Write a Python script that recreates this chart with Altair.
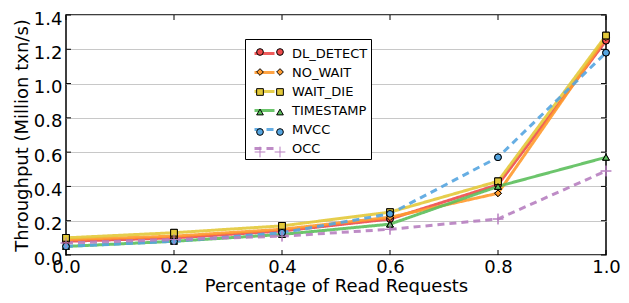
import altair as alt
import pandas as pd

read_pct = [0.0, 0.2, 0.4, 0.6, 0.8, 1.0]
y_ticks = [0.0, 0.2, 0.4, 0.6, 0.8, 1.0, 1.2, 1.4]
series_names = ["DL_DETECT", "NO_WAIT", "WAIT_DIE", "TIMESTAMP", "MVCC", "OCC"]
dl_detect = [0.08, 0.10, 0.14, 0.21, 0.41, 1.25]
no_wait = [0.09, 0.11, 0.15, 0.22, 0.36, 1.27]
wait_die = [0.10, 0.13, 0.17, 0.25, 0.43, 1.28]
timestamp = [0.05, 0.08, 0.12, 0.18, 0.40, 0.57]
mvcc = [0.05, 0.08, 0.13, 0.24, 0.57, 1.18]
occ = [0.07, 0.09, 0.11, 0.15, 0.21, 0.49]

colors = ["#ee4b4b", "#ff9a2e", "#e3c93a", "#5cbf5c", "#55a5e0", "#b77fc0"]
shapes = ["circle", "diamond", "square", "triangle-up", "circle",
          "M-1.6,0H1.6M0,-1.6V1.6"]
dashes = [[1, 0], [1, 0], [1, 0], [1, 0], [7, 5], [7, 5]]
edges = ["black", "black", "black", "black", "black", "#b77fc0"]

vals = [dl_detect, no_wait, wait_die, timestamp, mvcc, occ]
rows = []
for name, ys in zip(series_names, vals):
    for x, y in zip(read_pct, ys):
        rows.append({"x": x, "y": y, "series": name})
df = pd.DataFrame(rows)

W, H = 540, 240
LX, LY = 179, 24
ticks_x = pd.DataFrame({"x": read_pct})
ticks_y = pd.DataFrame({"y": y_ticks})

xscale = alt.Scale(domain=[0, 1], nice=False, zero=False, padding=0)
yscale = alt.Scale(domain=[0, 1.4], nice=False, padding=0)

line_legend = alt.Legend(
    title=None, orient="none", legendX=LX, legendY=LY,
    labelFont="DejaVu Sans", labelFontSize=13, labelColor="black",
    strokeColor="black", fillColor="white", padding=3,
    symbolSize=400, symbolStrokeWidth=3, symbolOffset=5, labelOffset=16,
    rowPadding=0, symbolType="stroke",
)


def marker_legend(offset):
    return alt.Legend(
        title=None, orient="none", legendX=LX, legendY=LY,
        labelFont="DejaVu Sans", labelFontSize=20, labelExpr="''",
        padding=3, symbolSize=45, symbolStrokeWidth=1, symbolOffset=offset,
        rowPadding=0,
    )


xaxis = alt.Axis(title="Percentage of Read Requests", values=read_pct, format=".1f",
                 grid=False, tickSize=0, labelPadding=3, domain=False,
                 labelFlush=False, labelOverlap=False)
yaxis = alt.Axis(title="Throughput (Million txn/s)", values=y_ticks, format=".1f",
                 grid=True, tickSize=0, labelPadding=4, domain=False,
                 labelFlush=False, labelOverlap=False, labelOffset=4)


def X():
    return alt.X("x:Q", scale=xscale, axis=xaxis)


def Y():
    return alt.Y("y:Q", scale=yscale, axis=yaxis)


base = alt.Chart(df)
lines = base.mark_line(strokeWidth=3, opacity=0.9).encode(
    x=X(), y=Y(),
    color=alt.Color("series:N", scale=alt.Scale(domain=series_names, range=colors),
                    legend=line_legend, sort=series_names),
    strokeDash=alt.StrokeDash("series:N", scale=alt.Scale(domain=series_names, range=dashes),
                              legend=line_legend, sort=series_names),
)


def point_layer(offset):
    lg = marker_legend(offset)
    return base.mark_point(filled=True, size=45, strokeWidth=1, opacity=1).encode(
        x=X(), y=Y(),
        fill=alt.Fill("series:N", scale=alt.Scale(domain=series_names, range=colors),
                      legend=lg, sort=series_names),
        shape=alt.Shape("series:N", scale=alt.Scale(domain=series_names, range=shapes),
                        legend=lg, sort=series_names),
        stroke=alt.Stroke("series:N", scale=alt.Scale(domain=series_names, range=edges),
                          legend=lg, sort=series_names),
    )


points_a = point_layer(2)
points_b = point_layer(22)

bx = alt.Chart(ticks_x).mark_rule(color="black", strokeWidth=1).encode(
    x=X(), y=alt.value(H), y2=alt.value(H - 5))
tx = alt.Chart(ticks_x).mark_rule(color="black", strokeWidth=1).encode(
    x=X(), y=alt.value(0), y2=alt.value(5))
ly = alt.Chart(ticks_y).mark_rule(color="black", strokeWidth=1).encode(
    y=Y(), x=alt.value(0), x2=alt.value(5))
ry = alt.Chart(ticks_y).mark_rule(color="black", strokeWidth=1).encode(
    y=Y(), x=alt.value(W), x2=alt.value(W - 5))

chart = alt.layer(lines, points_a, points_b, bx, tx, ly, ry).resolve_scale(
    fill="independent", shape="independent", stroke="independent"
).properties(
    width=W, height=H,
    autosize=alt.AutoSizeParams(type="none"),
    padding={"left": 58, "top": 7, "right": 15, "bottom": 40},
).configure_view(stroke="black", strokeWidth=1.5).configure_axis(
    labelFont="DejaVu Sans", labelFontSize=18, labelColor="black",
    titleFont="DejaVu Sans", titleFontSize=18, titleFontWeight="normal", titleColor="black",
    gridColor="#c8c8c8", gridWidth=1,
).configure_axisY(titlePadding=2).configure_axisX(titlePadding=1)

chart.save("out.html", embed_options={"renderer": "svg", "actions": False})
